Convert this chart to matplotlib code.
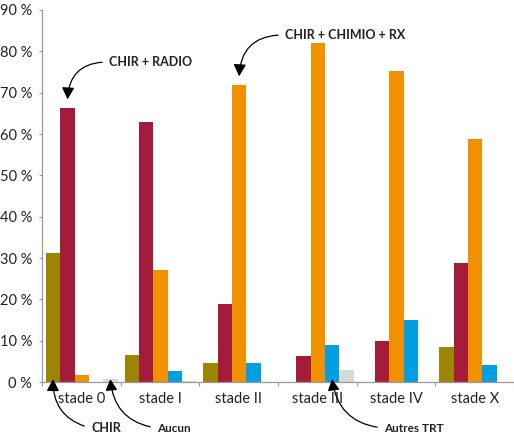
import matplotlib
matplotlib.use("Agg")
import matplotlib.pyplot as plt
import numpy as np

plt.rcParams['font.family'] = ['Lato', 'DejaVu Sans']

stades = ["stade 0", "stade I", "stade II", "stade III", "stade IV", "stade X"]
series_names = ["CHIR", "CHIR + RADIO", "CHIR + CHIMIO + RX", "Autres TRT", "Aucun"]
chir = [31.1, 6.6, 4.6, 0.0, 0.0, 8.4]
chir_radio = [66.2, 63.0, 18.8, 6.2, 9.9, 28.7]
chir_chimio_rx = [1.6, 27.1, 71.8, 81.9, 75.2, 58.7]
autres_trt = [0.0, 2.7, 4.6, 8.9, 15.0, 4.1]
aucun = [0.7, 0.2, 0.0, 2.9, 0.0, 0.0]
yticks = [0, 10, 20, 30, 40, 50, 60, 70, 80, 90]

colors = ["#9C8500", "#A51C3A", "#F29100", "#009FE3", "#D9D9D9"]
series = [chir, chir_radio, chir_chimio_rx, autres_trt, aucun]

W, H = 514, 441
fig = plt.figure(figsize=(W / 100, H / 100), dpi=100)
ax = fig.add_axes([42 / W, (H - 382) / H, 1 - 42 / W, (382 - 10) / H])

n = len(stades)
bw = 0.182
off0 = 0.05
xs = np.arange(n)
for j, (vals, c) in enumerate(zip(series, colors)):
    ax.bar(xs + off0 + bw * (j + 0.5), vals, width=bw, color=c, edgecolor='none',
           label=series_names[j])

ax.set_xlim(0, (W - 42) / 79.3)
ax.set_ylim(0, 90)
ax.set_yticks(yticks)
ax.set_yticklabels([f"{v} %" for v in yticks], fontsize=10.5, color="#222222")
ax.set_xticks(np.arange(n + 1))
ax.set_xticklabels([])
ax.set_xticks(xs + 0.5, minor=True)
ax.set_xticklabels(stades, minor=True, fontsize=10.5, color="#222222")
ax.tick_params(axis='x', which='minor', length=0, pad=7)
ax.tick_params(axis='x', which='major', length=3, color="#999999", width=0.8)
ax.tick_params(axis='y', length=2, color="#999999", width=0.8, pad=5)
for s in ['top', 'right']:
    ax.spines[s].set_visible(False)
for s in ['left', 'bottom']:
    ax.spines[s].set_color("#999999")
    ax.spines[s].set_linewidth(0.9)

def bar_x(i, j):
    return xs[i] + off0 + bw * (j + 0.5)

def akw(rad, shrinkB):
    return dict(arrowstyle="-|>,head_length=0.8,head_width=0.42", color="black",
                lw=0.9, shrinkA=3, shrinkB=shrinkB, relpos=(0, 0.5),
                connectionstyle=f"arc3,rad={rad}")

txt = dict(ha='left', va='center', fontweight='bold', color="#222222",
           annotation_clip=False, xycoords='data', textcoords='figure pixels')

ax.annotate("CHIR + RADIO", xy=(bar_x(0, 1), chir_radio[0] + 1.5),
            xytext=(109, H - 62), fontsize=9, arrowprops=akw(0.5, 2), **txt)
ax.annotate("CHIR + CHIMIO + RX", xy=(bar_x(2, 2), chir_chimio_rx[2] + 1.5),
            xytext=(285, H - 35), fontsize=9, arrowprops=akw(0.5, 2), **txt)
ax.annotate("CHIR", xy=(bar_x(0, 0), 0.7),
            xytext=(91, H - 428), fontsize=9, arrowprops=akw(-0.4, 0), **txt)
ax.annotate("Aucun", xy=(bar_x(0, 4), 0.7),
            xytext=(157, H - 428), fontsize=8.5, arrowprops=akw(-0.4, 0), **txt)
ax.annotate("Autres TRT", xy=(bar_x(3, 3), 0.7),
            xytext=(384, H - 428), fontsize=8.5, arrowprops=akw(-0.4, 0), **txt)

fig.savefig("out.png", dpi=100)
